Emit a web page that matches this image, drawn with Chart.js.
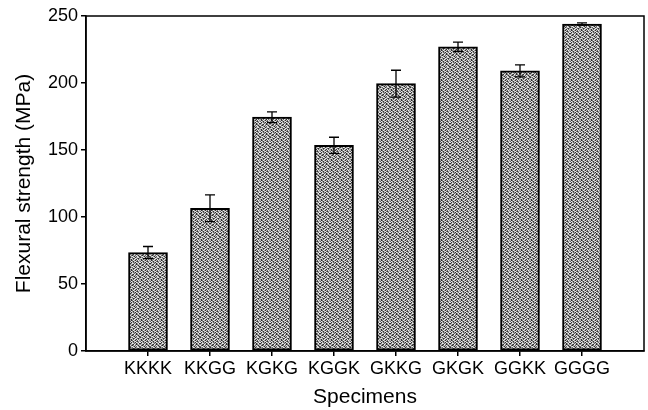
<!DOCTYPE html>
<html>
<head>
<meta charset="utf-8">
<script src="https://cdn.jsdelivr.net/npm/chart.js@4"></script>
<style>
	html, body { margin: 0; padding: 0; background: #fff; }
	#wrap { width: 648px; height: 410px; }
</style>
</head>
<body>
<div id="wrap"><canvas id="chart" width="648" height="410"></canvas></div>
<script>
const specimens = ['KKKK', 'KKGG', 'KGKG', 'KGGK', 'GKKG', 'GKGK', 'GGKK', 'GGGG'];
const strength = [73.5, 106.5, 174.5, 153.5, 199.5, 227, 209, 244];
const errors = [4.5, 10, 4, 6, 10, 3.5, 4.5, 0.8];
const yTicks = [0, 50, 100, 150, 200, 250];

// one empty slot at each end so the bars sit a full step in from the frame
const labels = ['', ...specimens, ''];
const values = [null, ...strength, null];
const errs = [null, ...errors, null];

// grey speckle fill like the printed bars (hand drawn 10x10 tile, 0 = dark .. 4 = light)
const speckle = [
	'3014203142',
	'1420341023',
	'4031204314',
	'0243130240',
	'2310420132',
	'4102314203',
	'1342031420',
	'0214302341',
	'3420143102',
	'2031420413'
];
const makePattern = () => {
	const tile = document.createElement('canvas');
	tile.width = 10;
	tile.height = 10;
	const c = tile.getContext('2d');
	const shades = ['#2e2e2e', '#666666', '#9a9a9a', '#c6c6c6', '#ececec'];
	speckle.forEach((row, y) => {
		row.split('').forEach((v, x) => {
			c.fillStyle = shades[+v];
			c.fillRect(x, y, 1, 1);
		});
	});
	return c.createPattern(tile, 'repeat');
};

const frame = {
	id: 'frame',
	afterDraw(chart) {
		const {ctx, chartArea} = chart;
		ctx.save();
		ctx.strokeStyle = '#000';
		ctx.lineWidth = 1.5;
		ctx.strokeRect(chartArea.left, chartArea.top, chartArea.right - chartArea.left, chartArea.bottom - chartArea.top);
		ctx.restore();
	}
};

const errorBars = {
	id: 'errorBars',
	afterDatasetsDraw(chart) {
		const {ctx} = chart;
		const y = chart.scales.y;
		const meta = chart.getDatasetMeta(0);
		ctx.save();
		ctx.strokeStyle = '#000';
		ctx.lineWidth = 1.3;
		meta.data.forEach((bar, i) => {
			if (errs[i] == null) {
				return;
			}
			const top = y.getPixelForValue(values[i] + errs[i]);
			const bot = y.getPixelForValue(values[i] - errs[i]);
			ctx.beginPath();
			ctx.moveTo(bar.x, top);
			ctx.lineTo(bar.x, bot);
			ctx.moveTo(bar.x - 5, top);
			ctx.lineTo(bar.x + 5, top);
			ctx.moveTo(bar.x - 5, bot);
			ctx.lineTo(bar.x + 5, bot);
			ctx.stroke();
		});
		ctx.restore();
	}
};

const font = 'Liberation Sans';
const ctx = document.getElementById('chart').getContext('2d');
window.myChart = new Chart(ctx, {
	type: 'bar',
	data: {
		labels: labels,
		datasets: [{
			data: values,
			backgroundColor: makePattern(),
			borderColor: '#000',
			borderWidth: 2,
			borderSkipped: false,
			barThickness: 39
		}]
	},
	options: {
		responsive: false,
		animation: false,
		layout: { padding: { left: 0, right: 4, top: 16, bottom: 0 } },
		plugins: { legend: { display: false }, tooltip: { enabled: false } },
		scales: {
			x: {
				offset: false,
				afterFit: s => { s.height = 59; },
				grid: {
					offset: false,
					drawOnChartArea: false,
					tickLength: 5,
					lineWidth: 1.5,
					color: c => (c.tick && c.tick.label) ? '#000' : 'rgba(0,0,0,0)'
				},
				border: { color: '#000', width: 1.5 },
				ticks: { color: '#000', padding: 2, maxRotation: 0, autoSkip: false, font: { family: font, size: 18 } },
				title: { display: true, text: 'Specimens', color: '#000', padding: { top: 0, bottom: 0 }, font: { family: font, size: 21 } }
			},
			y: {
				min: 0,
				max: 250,
				afterFit: s => { s.width = 86; },
				afterBuildTicks: s => { s.ticks = yTicks.map(v => ({ value: v })); },
				grid: { drawOnChartArea: false, tickLength: 5, lineWidth: 1.5, color: '#000' },
				border: { color: '#000', width: 1.5 },
				ticks: { color: '#000', padding: 3, font: { family: font, size: 18 } },
				title: { display: true, text: 'Flexural strength (MPa)', color: '#000', padding: { top: 12, bottom: 0 }, font: { family: font, size: 21 } }
			}
		}
	},
	plugins: [frame, errorBars]
});
</script>
</body>
</html>
